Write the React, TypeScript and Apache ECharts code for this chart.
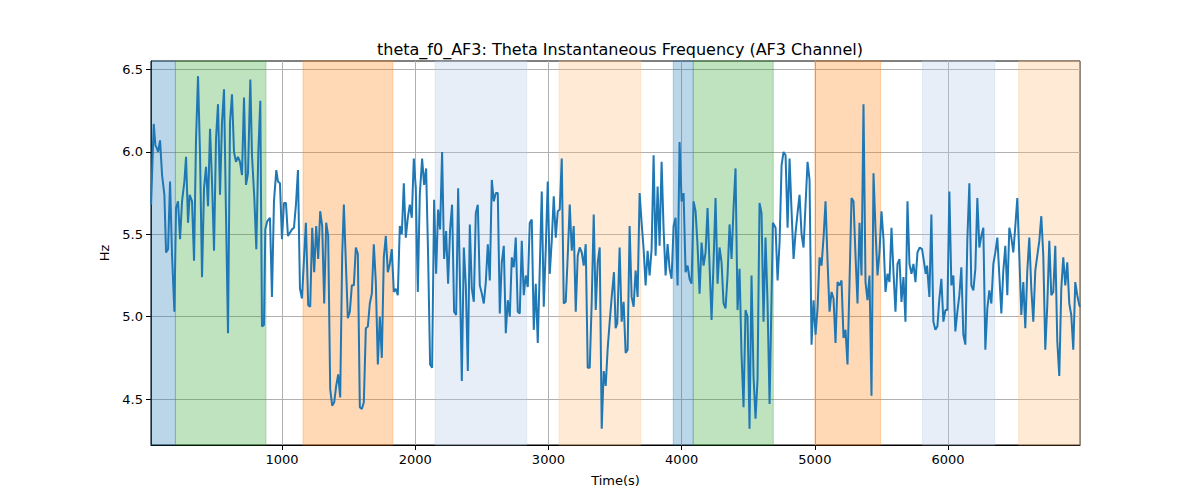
import { useEffect, useRef } from 'react'
import * as echarts from 'echarts'

// [time, Hz] samples
const thetaPoints: [number, number][] = [
  [17.5, 5.68], [37.5, 6.17], [50, 6.04], [62.5, 6.02], [70, 6.0], [85, 6.07], [100, 5.86], [117.5, 5.74],
  [130, 5.39], [145, 5.41], [160, 5.82], [175, 5.37], [192.5, 5.03], [205, 5.66], [220, 5.7], [235, 5.47],
  [250, 5.7], [267.5, 5.82], [280, 5.97], [295, 5.57], [307.5, 5.74], [325, 5.7], [340, 5.34], [355, 6.08],
  [370, 6.46], [385, 5.98], [400, 5.24], [415, 5.78], [430, 5.91], [445, 5.67], [460, 6.14], [475, 5.82],
  [490, 5.4], [505, 6.08], [520, 6.29], [535, 5.74], [550, 6.18], [565, 6.38], [580, 5.62], [595, 4.9],
  [610, 6.18], [625, 6.35], [640, 6.0], [655, 5.94], [670, 5.97], [685, 5.94], [700, 5.86], [715, 6.33],
  [730, 5.8], [745, 5.87], [762.5, 6.44], [775, 5.98], [792.5, 5.72], [807.5, 5.41], [822.5, 6.0], [837.5, 6.31],
  [850, 4.94], [865, 4.95], [875, 5.53], [890, 5.58], [910, 5.6], [925, 5.12], [940, 5.7], [957.5, 5.89],
  [970, 5.82], [985, 5.81], [1000, 5.47], [1015, 5.69], [1030, 5.69], [1045, 5.49], [1060, 5.51], [1075, 5.53],
  [1090, 5.54], [1105, 5.68], [1120, 5.89], [1135, 5.17], [1150, 5.11], [1179.5, 5.57], [1197, 5.07], [1212, 5.06],
  [1227, 5.54], [1242, 5.27], [1257, 5.55], [1272, 5.35], [1287, 5.64], [1302, 5.55], [1317, 5.08], [1332, 5.57],
  [1347, 5.49], [1362, 4.56], [1377, 4.46], [1392, 4.48], [1407, 4.58], [1422, 4.65], [1437, 4.51], [1452, 5.37],
  [1464.5, 5.68], [1479.5, 5.33], [1494.5, 4.99], [1509.5, 5.03], [1524.5, 5.19], [1539.5, 5.19], [1554.5, 5.42], [1569.5, 5.38],
  [1584.5, 4.45], [1599.5, 4.44], [1614.5, 4.48], [1629.5, 4.93], [1644.5, 4.94], [1659.5, 5.08], [1674.5, 5.14], [1689.5, 5.44],
  [1704.5, 5.21], [1719.5, 4.71], [1734.5, 5.0], [1749.5, 4.75], [1764.5, 5.36], [1779.5, 5.49], [1794.5, 5.27], [1809.5, 5.32],
  [1824.5, 5.41], [1839.5, 5.15], [1854.5, 5.17], [1869.5, 5.13], [1884.5, 5.55], [1899.5, 5.5], [1914.5, 5.81], [1929.5, 5.48],
  [1944.5, 5.6], [1959.5, 5.68], [1974.5, 5.6], [1989.5, 5.96], [2004.5, 5.78], [2019.5, 5.15], [2034.5, 5.74], [2052, 5.96],
  [2067, 5.8], [2082, 5.9], [2097, 5.37], [2112, 4.71], [2127, 4.69], [2142, 5.71], [2157, 5.26], [2172, 5.65],
  [2187, 5.53], [2202, 6.0], [2217, 5.35], [2232, 5.52], [2247, 5.2], [2262, 5.53], [2277, 5.68], [2292, 5.03],
  [2307.5, 5.01], [2322.5, 5.78], [2350, 4.61], [2365, 5.42], [2380, 5.19], [2395, 4.67], [2410, 5.56], [2425, 5.17],
  [2440, 5.09], [2455, 5.63], [2470, 5.68], [2485, 5.19], [2500, 5.14], [2515, 5.08], [2530, 5.21], [2545, 5.44],
  [2560, 5.22], [2575, 5.83], [2590, 5.7], [2605, 5.75], [2620, 5.75], [2635, 5.02], [2650, 5.33], [2665, 5.43],
  [2680, 4.9], [2695, 5.1], [2710, 5.0], [2725, 5.36], [2740, 5.3], [2755, 5.48], [2770, 5.03], [2785, 5.02],
  [2800, 5.46], [2815, 5.13], [2830, 5.25], [2845, 5.18], [2860, 5.57], [2875, 5.59], [2890, 4.92], [2905, 5.2],
  [2920, 4.84], [2935, 5.29], [2950, 5.76], [2965, 5.06], [2980, 5.41], [2995, 5.82], [3010, 5.26], [3025, 5.46],
  [3040, 5.73], [3055, 5.48], [3070, 5.64], [3085, 5.65], [3100, 5.96], [3115, 5.08], [3130, 5.09], [3145, 5.37],
  [3160, 5.68], [3175, 5.4], [3190, 5.55], [3205, 5.03], [3220, 5.37], [3235, 5.42], [3250, 5.39], [3265, 5.31],
  [3280, 5.44], [3295, 4.69], [3310, 4.69], [3325, 5.09], [3340, 5.62], [3355, 5.04], [3370, 5.33], [3385, 5.42],
  [3400, 4.32], [3415, 4.67], [3430, 4.58], [3445, 4.81], [3460, 4.97], [3475, 5.12], [3492, 5.27], [3504.5, 4.93],
  [3517, 4.96], [3534.5, 5.42], [3549.5, 4.97], [3564.5, 5.09], [3579.5, 4.78], [3594.5, 4.8], [3609.5, 5.55], [3624.5, 5.12],
  [3639.5, 5.06], [3654.5, 5.28], [3669.5, 5.12], [3684.5, 5.75], [3699.5, 5.57], [3714.5, 5.41], [3729.5, 5.19], [3744.5, 5.4],
  [3759.5, 5.25], [3774.5, 5.41], [3789.5, 5.98], [3804.5, 5.37], [3819.5, 5.79], [3834.5, 5.43], [3849.5, 5.94], [3864.5, 5.53],
  [3879.5, 5.25], [3894.5, 5.44], [3909.5, 5.29], [3924.5, 5.23], [3939.5, 5.55], [3954.5, 5.6], [3969.5, 5.19], [3984.5, 6.06],
  [3999.5, 5.7], [4014.5, 5.75], [4029.5, 5.27], [4044.5, 5.31], [4059.5, 5.23], [4074.5, 5.2], [4089.5, 5.7], [4104.5, 5.64],
  [4119.5, 5.43], [4134.5, 5.14], [4149.5, 5.45], [4164.5, 5.31], [4179.5, 5.39], [4194.5, 5.66], [4209.5, 5.31], [4224.5, 4.98],
  [4239.5, 5.33], [4254.5, 5.72], [4269.5, 5.2], [4284.5, 5.42], [4299.5, 5.33], [4314.5, 5.08], [4329.5, 5.05], [4344.5, 5.25],
  [4359.5, 5.56], [4374.5, 5.35], [4389.5, 5.66], [4404.5, 5.9], [4419.5, 5.04], [4434.5, 5.29], [4449.5, 4.77], [4464.5, 4.45],
  [4479.5, 5.04], [4494.5, 5.0], [4509.5, 4.32], [4524.5, 5.25], [4539.5, 4.64], [4554.5, 4.38], [4569.5, 4.62], [4584.5, 5.69],
  [4599.5, 5.63], [4614.5, 4.97], [4629.5, 5.48], [4644.5, 5.09], [4660, 4.47], [4685, 5.57], [4705, 5.54], [4720, 5.22],
  [4735, 5.45], [4750, 5.92], [4765, 6.0], [4780, 5.98], [4795, 5.54], [4810, 5.96], [4825, 5.64], [4840, 5.35],
  [4855, 5.51], [4870, 5.63], [4885, 5.74], [4900, 5.5], [4915, 5.42], [4930, 5.68], [4945, 5.94], [4960, 5.83],
  [4975, 4.83], [4990, 5.1], [5005, 4.89], [5020, 5.05], [5035, 5.36], [5050, 5.31], [5065, 5.48], [5080, 5.7],
  [5095, 5.34], [5110, 5.03], [5125, 5.15], [5140, 5.11], [5155, 4.84], [5170, 5.21], [5185, 5.19], [5200, 5.22],
  [5215, 4.87], [5230, 4.92], [5245, 4.71], [5260, 5.21], [5275, 5.72], [5290, 5.7], [5305, 5.37], [5320, 5.08],
  [5335, 5.57], [5350, 5.25], [5365, 6.29], [5380, 5.21], [5395, 5.1], [5410, 5.25], [5425, 4.52], [5440, 5.87],
  [5455, 5.53], [5470, 5.25], [5485, 5.39], [5500, 5.64], [5515, 5.47], [5530, 5.15], [5545, 5.26], [5560, 5.21],
  [5575, 5.54], [5590, 5.27], [5605, 5.03], [5620, 5.32], [5635, 5.35], [5650, 5.09], [5665, 5.24], [5680, 4.97],
  [5695, 5.7], [5710, 5.32], [5725, 5.26], [5740, 5.32], [5755, 5.21], [5770, 5.39], [5787, 5.42], [5804.5, 5.41],
  [5819.5, 5.33], [5832, 5.26], [5842, 5.31], [5859.5, 5.12], [5874.5, 5.62], [5889.5, 4.97], [5904.5, 4.92], [5919.5, 4.94],
  [5934.5, 5.11], [5949.5, 5.23], [5964.5, 4.97], [5979.5, 5.04], [5994.5, 5.04], [6009.5, 5.76], [6024.5, 5.19], [6039.5, 5.25],
  [6054.5, 4.91], [6069.5, 5.03], [6084.5, 5.13], [6099.5, 5.3], [6114.5, 4.89], [6129.5, 4.83], [6144.5, 5.47], [6159.5, 5.81],
  [6174.5, 5.19], [6189.5, 5.16], [6204.5, 5.29], [6219.5, 5.72], [6234.5, 5.42], [6249.5, 5.49], [6264.5, 5.54], [6279.5, 4.8],
  [6294.5, 5.05], [6309.5, 5.16], [6324.5, 5.08], [6339.5, 5.32], [6354.5, 5.39], [6369.5, 5.48], [6384.5, 5.25], [6399.5, 5.02],
  [6414.5, 5.28], [6429.5, 5.43], [6444.5, 5.13], [6459.5, 5.54], [6474.5, 5.48], [6489.5, 5.39], [6504.5, 5.55], [6519.5, 5.72],
  [6534.5, 5.37], [6549.5, 5.01], [6564.5, 5.21], [6579.5, 4.93], [6594.5, 5.28], [6609.5, 5.48], [6624.5, 5.17], [6639.5, 4.97],
  [6654.5, 5.28], [6669.5, 5.37], [6684.5, 5.46], [6699.5, 5.61], [6714.5, 5.37], [6729.5, 4.8], [6744.5, 5.07], [6759.5, 5.46],
  [6774.5, 5.13], [6789.5, 5.15], [6804.5, 5.43], [6819.5, 4.85], [6834.5, 4.64], [6849.5, 5.17], [6864.5, 5.36], [6879.5, 5.19],
  [6894.5, 5.33], [6909.5, 5.08], [6924.5, 5.01], [6939.5, 4.8], [6954.5, 5.21], [6969.5, 5.13], [6984.5, 5.07], [6990, 5.06],
]

// shaded segments
const bandStarts = [17, 200, 1158, 2150, 3080, 3937, 4087, 5000, 5808, 6530]
const bandEnds = [200, 880, 1832, 2837, 3692, 4087, 4688, 5493, 6350, 6990]
const bandKinds = ['blue', 'green', 'orange', 'lightblue', 'lightorange', 'blue', 'green', 'orange', 'lightblue', 'lightorange']

const xTicks = [1000, 2000, 3000, 4000, 5000, 6000]
const yTicks = [4.5, 5.0, 5.5, 6.0, 6.5]

const bandColors: Record<string, string> = {
  blue: 'rgba(31,119,180,0.3)',
  green: 'rgba(44,160,44,0.3)',
  orange: 'rgba(255,127,14,0.3)',
  lightblue: 'rgba(174,199,232,0.3)',
  lightorange: 'rgba(255,187,120,0.3)',
}

const font = 'DejaVu Sans'

export default function App() {
  const chartRef = useRef<HTMLDivElement>(null)

  useEffect(() => {
    if (!chartRef.current) return
    const chart = echarts.init(chartRef.current, null, { renderer: 'svg' })

    const areas = bandStarts.map((s, i) => {
      const c = bandColors[bandKinds[i]]
      return [
        { xAxis: s, itemStyle: { color: c, borderColor: c, borderWidth: 1 } },
        { xAxis: bandEnds[i] },
      ]
    })

    chart.setOption({
      animation: false,
      backgroundColor: '#fff',
      title: {
        text: 'theta_f0_AF3: Theta Instantaneous Frequency (AF3 Channel)',
        left: 615,
        textAlign: 'center',
        top: 36,
        textStyle: { fontFamily: font, fontSize: 16, fontWeight: 'normal', color: '#000' },
      },
      grid: { left: 151, right: 120, top: 61, bottom: 55, show: true, borderColor: '#000', borderWidth: 1 },
      xAxis: {
        type: 'value',
        min: 17,
        max: 6990,
        splitNumber: 7,
        name: 'Time(s)',
        nameLocation: 'middle',
        nameGap: 29,
        nameTextStyle: { fontFamily: font, fontSize: 13, color: '#000' },
        axisLine: { show: true, lineStyle: { color: '#000', width: 1 } },
        axisTick: { show: true, length: 5, customValues: xTicks, lineStyle: { color: '#000' } },
        axisLabel: {
          customValues: xTicks,
          formatter: (v: number) => String(v),
          fontFamily: font,
          fontSize: 13,
          color: '#000',
          margin: 8,
        },
        splitLine: { show: true, lineStyle: { color: '#b0b0b0', width: 1 } },
      },
      yAxis: {
        type: 'value',
        min: 4.221,
        max: 6.552,
        splitNumber: 5,
        name: 'Hz',
        nameLocation: 'middle',
        nameGap: 40,
        nameTextStyle: { fontFamily: font, fontSize: 13, color: '#000' },
        axisLine: { show: true, lineStyle: { color: '#000', width: 1 } },
        axisTick: { show: true, length: 5, customValues: yTicks, lineStyle: { color: '#000' } },
        axisLabel: {
          customValues: yTicks,
          formatter: (v: number) => v.toFixed(1),
          fontFamily: font,
          fontSize: 13,
          color: '#000',
          margin: 8,
        },
        splitLine: { show: true, lineStyle: { color: '#b0b0b0', width: 1 } },
      },
      series: [
        {
          type: 'line',
          data: thetaPoints,
          showSymbol: false,
          lineStyle: { color: '#1f77b4', width: 2 },
          itemStyle: { color: '#1f77b4' },
          z: 3,
          markArea: { silent: true, data: areas },
        },
      ],
    })

    return () => {
      chart.dispose()
    }
  }, [])

  return (
    <div
      ref={chartRef}
      style={{ position: 'absolute', left: 0, top: 0, width: '1200px', height: '500px' }}
    />
  )
}
